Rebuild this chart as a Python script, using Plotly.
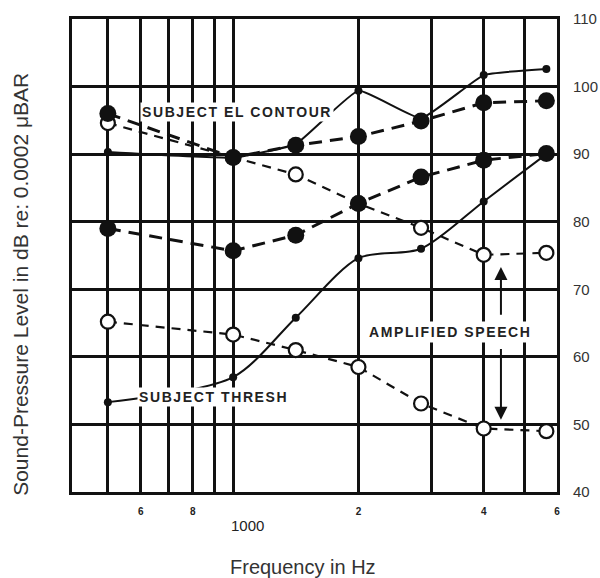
import math
import plotly.graph_objects as go

# ---- data ----
freqs = [500, 1000, 1414, 2000, 2828, 4000, 5657]
el_contour = [90.3, 89.5, 91.5, 99.4, 95.3, 101.7, 102.6]      # solid, small dots
upper_filled = [96.0, 89.5, 91.3, 92.6, 94.9, 97.6, 97.9]       # dashed, big filled dots
lower_filled = [79.0, 75.7, 78.0, 82.7, 86.6, 89.1, 90.1]       # dashed, big filled dots
upper_open = [94.6, 89.5, 87.0, 82.7, 79.1, 75.1, 75.4]         # dashed, open circles
thresh = [53.3, 57.0, 65.8, 74.6, 76.0, 83.0, 90.0]             # solid, small dots
lower_open = [65.2, 63.3, 61.0, 58.5, 53.1, 49.4, 49.0]         # dashed, open circles

x_grid = [500, 600, 700, 800, 900, 1000, 2000, 3000, 4000, 5000, 6000]
x_ticktext = ["", "6", "", "8", "", "", "2", "", "4", "", "6"]
y_ticks = [40, 50, 60, 70, 80, 90, 100, 110]

arrow_freq = 4400
arrow_top = 73.3
arrow_bottom = 50.7

INK = "#111111"
FONT = "Liberation Sans, Arial, sans-serif"

fig = go.Figure()

# open-circle series first (so filled dots sit on top where they coincide)
for ys in (upper_open, lower_open):
    fig.add_trace(go.Scatter(
        x=freqs, y=ys, mode="lines+markers",
        line=dict(color=INK, width=2.2, dash="9px,7px"),
        marker=dict(size=14, color="white", line=dict(color=INK, width=2.2)),
        showlegend=False, hoverinfo="skip"))

# solid curves with small dots
fig.add_trace(go.Scatter(
    x=freqs, y=el_contour, mode="lines+markers",
    line=dict(color=INK, width=2, shape="spline", smoothing=0.35),
    marker=dict(size=8, color=INK), showlegend=False, hoverinfo="skip"))
fig.add_trace(go.Scatter(
    x=freqs, y=thresh, mode="lines+markers",
    line=dict(color=INK, width=2, shape="spline", smoothing=0.8),
    marker=dict(size=8, color=INK), showlegend=False, hoverinfo="skip"))

# dashed curves with big filled dots
for ys in (upper_filled, lower_filled):
    fig.add_trace(go.Scatter(
        x=freqs, y=ys, mode="lines+markers",
        line=dict(color=INK, width=3, dash="13px,8px"),
        marker=dict(size=17, color=INK),
        showlegend=False, hoverinfo="skip"))

lx = math.log10
LBL = dict(family=FONT, size=14, color="#222", weight="bold")
annotations = [
    dict(x=lx(597), y=96.2, xref="x", yref="y", xanchor="left", yanchor="middle",
         text='<span style="letter-spacing:1.6px">SUBJECT EL CONTOUR</span>',
         showarrow=False, bgcolor="white", borderpad=1, font=LBL),
    dict(x=lx(587), y=54.0, xref="x", yref="y", xanchor="left", yanchor="middle",
         text='<span style="letter-spacing:1.6px">SUBJECT THRESH</span>',
         showarrow=False, bgcolor="white", borderpad=1, font=LBL),
    dict(x=lx(3330), y=63.7, xref="x", yref="y", xanchor="center", yanchor="middle",
         text='<span style="letter-spacing:1.6px">AMPLIFIED SPEECH</span>',
         showarrow=False, bgcolor="white", borderpad=2, font=LBL),
    # double arrow, broken by the label
    dict(x=lx(arrow_freq), y=arrow_top, xref="x", yref="y",
         ax=lx(arrow_freq), ay=66.0, axref="x", ayref="y",
         text="", showarrow=True, arrowhead=2, arrowsize=1.3, arrowwidth=2, arrowcolor=INK),
    dict(x=lx(arrow_freq), y=arrow_bottom, xref="x", yref="y",
         ax=lx(arrow_freq), ay=61.4, axref="x", ayref="y",
         text="", showarrow=True, arrowhead=2, arrowsize=1.3, arrowwidth=2, arrowcolor=INK),
    # "1000" label set lower than the other tick digits
    dict(x=lx(1000), y=0, xref="x", yref="paper", xanchor="center", yanchor="middle",
         xshift=14, yshift=-33, text="1000", showarrow=False,
         font=dict(family=FONT, size=15, color="#222")),
    # axis titles
    dict(x=0.476, y=0, xref="paper", yref="paper", xanchor="center", yanchor="middle",
         yshift=-75, text="Frequency in Hz", showarrow=False,
         font=dict(family=FONT, size=20, color="#333")),
    dict(x=0, y=0.438, xref="paper", yref="paper", xanchor="center", yanchor="middle",
         xshift=-51, text="Sound-Pressure Level in dB re: 0.0002 μBAR", textangle=-90,
         showarrow=False, font=dict(family=FONT, size=21, color="#333")),
]

fig.update_layout(
    width=600, height=578,
    margin=dict(l=72, r=43, t=19, b=86, autoexpand=False),
    paper_bgcolor="white", plot_bgcolor="white",
    annotations=annotations,
    xaxis=dict(type="log", range=[lx(410), lx(6000)],
               tickvals=x_grid, ticktext=x_ticktext, automargin=False,
               showgrid=True, gridcolor=INK, gridwidth=2.5,
               showline=True, linecolor=INK, linewidth=3, mirror=True,
               ticks="", ticklabelstandoff=8, zeroline=False,
               tickfont=dict(family=FONT, size=10, color="#222", weight="bold")),
    yaxis=dict(range=[40, 110], tickvals=y_ticks, side="right", automargin=False,
               showgrid=True, gridcolor=INK, gridwidth=2.5,
               showline=True, linecolor=INK, linewidth=3, mirror=True,
               ticks="", ticklabelstandoff=10, zeroline=False,
               tickfont=dict(family=FONT, size=15, color="#333")),
)

fig.write_html("out.html",
               config={"displayModeBar": False},
               post_script="document.body.style.margin='0';document.body.style.padding='0';")
